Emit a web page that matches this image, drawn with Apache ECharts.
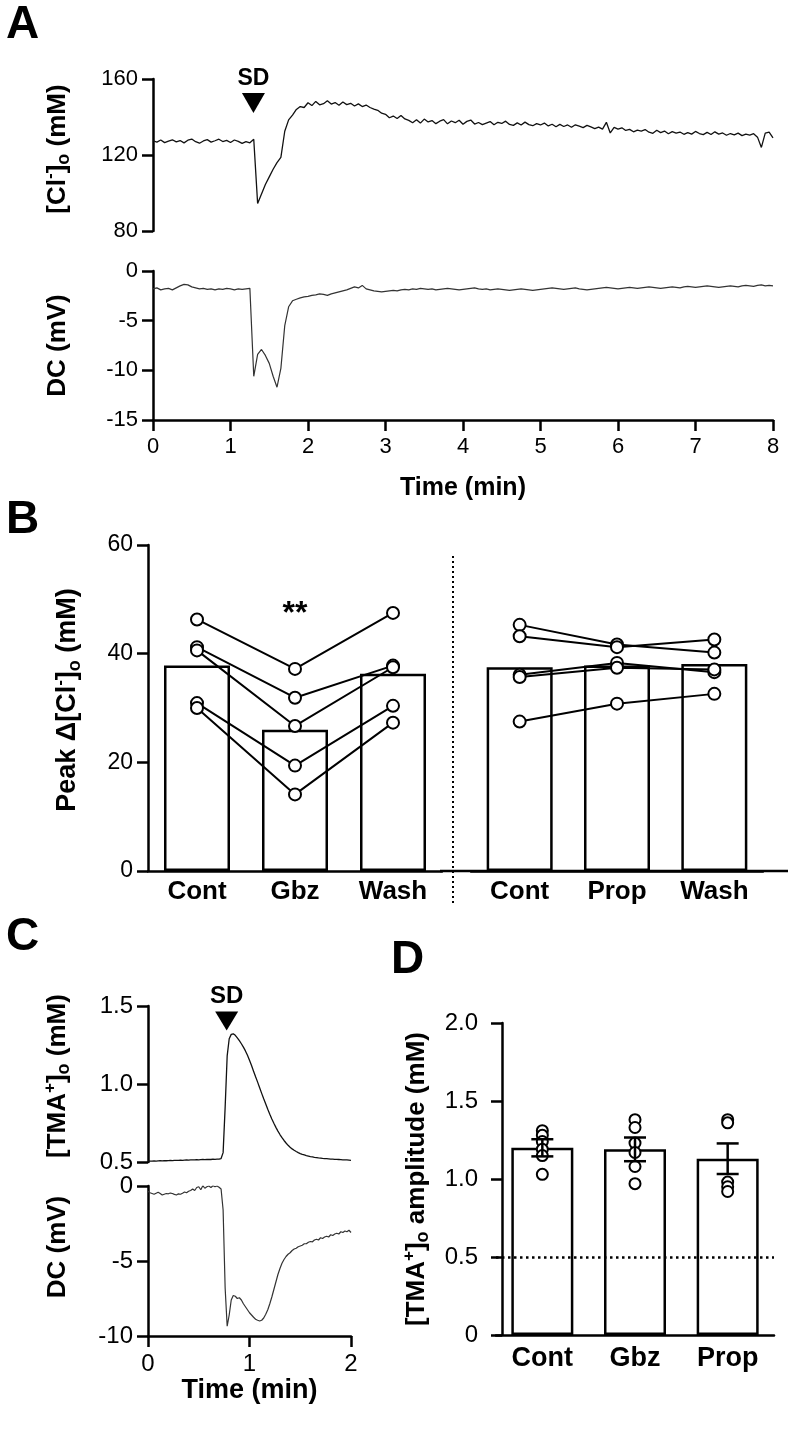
<!DOCTYPE html>
<html><head><meta charset="utf-8">
<script src="https://cdn.jsdelivr.net/npm/echarts@6/dist/echarts.min.js"></script>
<style>html,body{margin:0;padding:0;background:#fff}#c{width:796px;height:1451px}</style>
</head><body><div id="c"></div>
<script>
// ---------------- DATA ----------------
// Panel A: traces sampled every 0.05 min from 0 to 8 min
const aStep = 0.05;
const aCl = [
127.5,126.8,127.9,126.5,127.3,128.0,126.9,127.6,126.4,127.8,
128.4,127.0,126.2,127.4,128.1,126.8,127.5,128.3,127.1,127.7,
126.6,127.9,127.2,126.1,127.0,126.4,
128.3,94.5,
99.5,104.5,108.5,112.5,116.0,118.8,132.5,138.5,141.0,144.0,
145.5,145.0,147.5,146.0,148.2,146.4,147.0,148.5,146.8,147.6,
146.2,147.9,146.5,147.2,145.8,146.9,145.5,146.3,145.0,
144.2,143.5,142.0,141.4,139.6,140.5,139.2,140.8,139.0,138.2,
137.0,138.6,136.8,138.9,137.4,138.1,136.5,137.8,138.6,136.4,
137.9,137.0,138.3,136.2,137.7,138.4,136.3,137.1,136.0,136.8,
137.6,135.9,137.2,136.6,137.8,136.1,135.6,136.9,135.8,137.3,
136.0,135.4,136.5,135.8,136.8,135.3,136.2,134.9,136.1,135.0,
135.8,134.6,135.9,135.2,134.4,135.6,134.8,133.9,134.7,133.6,
137.2,131.6,134.5,133.6,134.3,132.9,133.5,132.2,133.1,132.6,
133.4,132.0,131.4,133.0,131.8,132.6,131.2,132.3,131.5,132.1,
130.9,131.8,131.0,132.4,131.3,130.7,131.9,130.8,132.2,131.0,
131.6,130.4,131.3,130.6,131.5,130.2,131.0,130.5,131.2,129.4,
124.0,131.5,132.0,129.0
];
const aDC = [
-1.8,-1.7,-1.9,-1.8,-1.75,-1.9,-1.7,-1.5,-1.35,-1.4,
-1.6,-1.7,-1.8,-1.75,-1.85,-1.8,-1.9,-1.8,-1.85,-1.75,
-1.8,-1.9,-1.8,-1.85,-1.8,-1.75,
-10.6,-8.4,-7.9,-8.5,-9.3,-10.6,-11.7,-9.8,-5.5,-3.6,
-3.0,-2.85,-2.7,-2.6,-2.55,-2.45,-2.4,-2.3,-2.35,-2.45,
-2.3,-2.2,-2.1,-2.0,-1.9,-1.75,-1.6,-1.7,-1.45,-1.8,
-1.9,-2.0,-2.05,-2.1,-2.05,
-2.0,-1.95,-2.0,-1.9,-1.85,-1.9,-1.8,-1.85,-1.75,-1.8,
-1.85,-1.8,-1.9,-1.85,-1.8,-1.75,-1.8,-1.85,-1.9,-1.85,
-1.8,-1.75,-1.7,-1.8,-1.85,-1.8,-1.9,-1.85,-1.8,-1.85,
-1.9,-1.95,-1.9,-1.85,-1.8,-1.85,-1.9,-1.95,-1.9,-1.85,
-1.8,-1.75,-1.7,-1.75,-1.8,-1.85,-1.8,-1.75,-1.7,-1.8,
-1.85,-1.9,-1.85,-1.8,-1.75,-1.7,-1.65,-1.7,-1.75,-1.8,
-1.75,-1.7,-1.65,-1.7,-1.75,-1.7,-1.65,-1.6,-1.65,-1.7,
-1.75,-1.7,-1.65,-1.6,-1.65,-1.7,-1.6,-1.55,-1.6,-1.65,
-1.6,-1.55,-1.5,-1.55,-1.6,-1.65,-1.6,-1.55,-1.5,-1.55,
-1.6,-1.5,-1.45,-1.5,-1.55,-1.45,-1.4,-1.5,-1.45,-1.5
];
const aSD = [1.296, 147.4];   // arrow position (min, mM)

// Panel B
const bCatsL = ['Cont', 'Gbz', 'Wash'];
const bCatsR = ['Cont', 'Prop', 'Wash'];
const bMeanL = [37.8, 26.0, 36.3];
const bMeanR = [37.5, 37.8, 38.1];
const bSubjL = [
  [46.3, 37.2, 47.5],
  [41.2, 31.9, 37.8],
  [40.6, 26.7, 37.5],
  [30.9, 19.4, 30.4],
  [30.0, 14.1, 27.3]
];
const bSubjR = [
  [45.3, 41.7, 40.2],
  [43.2, 41.2, 42.6],
  [36.1, 38.3, 36.6],
  [35.7, 37.4, 37.1],
  [27.5, 30.8, 32.6]
];
const bStar = ['Gbz', 47.2];

// Panel C: traces sampled every 0.02 min from 0 to 2 min
const cStep = 0.02;
const cTMA = [
0.505,0.506,0.505,0.507,0.506,0.507,0.508,0.507,0.509,0.508,
0.509,0.510,0.509,0.511,0.510,0.511,0.512,0.511,0.512,0.513,
0.512,0.513,0.514,0.513,0.515,0.514,0.515,0.516,0.515,0.516,
0.517,0.516,0.518,0.517,0.518,0.519,
0.522,0.56,0.85,1.18,1.29,1.318,1.322,1.312,1.296,1.278,
1.258,1.236,1.212,1.184,1.152,1.118,1.082,1.046,1.012,0.976,
0.94,0.905,0.872,0.838,0.806,0.776,0.748,0.722,0.698,0.676,
0.656,0.638,0.622,0.607,0.595,0.584,0.575,0.567,0.560,0.554,
0.549,0.545,0.541,0.538,0.535,0.533,0.530,0.528,0.526,0.525,
0.523,0.522,0.521,0.520,0.519,0.518,0.517,0.517,0.516,0.515,
0.514,0.514,0.513,0.512,0.511
];
const cDC = [
-0.35,-0.45,-0.5,-0.55,-0.48,-0.42,-0.5,-0.6,-0.55,-0.5,
-0.52,-0.47,-0.5,-0.56,-0.6,-0.52,-0.55,-0.48,-0.4,-0.45,
-0.35,-0.3,-0.2,-0.3,-0.1,-0.05,-0.25,0.02,-0.15,-0.05,
0.0,-0.1,0.02,-0.05,0.0,-0.08,
-0.2,-1.6,-6.8,-9.35,-8.6,-7.6,-7.3,-7.35,-7.5,-7.45,
-7.6,-7.85,-8.05,-8.25,-8.45,-8.6,-8.75,-8.88,-8.95,-9.0,
-8.95,-8.8,-8.55,-8.25,-7.85,-7.4,-6.9,-6.4,-5.9,-5.5,
-5.15,-4.9,-4.7,-4.55,-4.45,-4.3,-4.2,-4.15,-4.05,-4.0,
-3.95,-3.85,-3.85,-3.75,-3.7,-3.72,-3.6,-3.55,-3.6,-3.45,
-3.5,-3.4,-3.35,-3.4,-3.25,-3.3,-3.2,-3.15,-3.2,-3.05,
-3.1,-3.0,-3.05,-2.95,-3.1
];
const cSD = [0.775, 1.404];

// Panel D
const dCats = ['Cont', 'Gbz', 'Prop'];
const dMean = [1.20, 1.19, 1.13];
const dSem = [0.055, 0.076, 0.098];
const dPoints = [
  [1.31, 1.28, 1.24, 1.19, 1.15, 1.03],
  [1.38, 1.33, 1.23, 1.17, 1.08, 0.97],
  [1.38, 1.36, 0.98, 0.95, 0.92]
];
const dBaseline = 0.5;

// ---------------- CHART ----------------
const FF = '"Liberation Sans", Arial, Helvetica, sans-serif';
const BLK = '#000';
const AXW = 2.5;

function toPairs(arr, step) { return arr.map((v, i) => [+(i * step).toFixed(3), v]); }

function makeRich(fs) {
  const s = Math.round(fs * 0.64);
  return {
    m: { fontSize: fs, fontWeight: 'bold', fontFamily: FF, color: BLK, lineHeight: fs + 5 },
    sup: { fontSize: s, fontWeight: 'bold', fontFamily: FF, color: BLK, verticalAlign: 'top', lineHeight: s },
    sub: { fontSize: s + 1, fontWeight: 'bold', fontFamily: FF, color: BLK, verticalAlign: 'bottom', lineHeight: s + 1 }
  };
}

function valY(gi, min, max, interval, name, nameGap, o) {
  o = o || {};
  const fs = o.nameSize || 26, ls = o.labelSize || 23, up = o.up || 0;
  return {
    type: 'value', gridIndex: gi, min: min, max: max, interval: interval, offset: o.offset || 0,
    name: name, nameLocation: 'middle', nameGap: nameGap, nameRotate: 90,
    nameTextStyle: { fontSize: fs, fontWeight: 'bold', fontFamily: FF, color: BLK, rich: makeRich(fs), padding: [0, 0, 0, 2 * up] },
    axisLine: { show: true, lineStyle: { color: BLK, width: AXW } },
    axisTick: { show: true, length: 11, inside: false, lineStyle: { color: BLK, width: AXW } },
    axisLabel: { show: true, fontSize: ls, fontFamily: FF, color: BLK, margin: o.margin || 15, formatter: o.formatter },
    splitLine: { show: false }
  };
}
function hiddenX(gi, min, max) {
  return { type: 'value', gridIndex: gi, min: min, max: max, show: false, splitLine: { show: false } };
}
function valX(gi, min, max, interval, name, nameGap, nameSize, labelSize) {
  return {
    type: 'value', gridIndex: gi, min: min, max: max, interval: interval,
    name: name, nameLocation: 'middle', nameGap: nameGap,
    nameTextStyle: { fontSize: nameSize, fontWeight: 'bold', fontFamily: FF, color: BLK },
    axisLine: { show: true, onZero: false, lineStyle: { color: BLK, width: AXW } },
    axisTick: { show: true, length: 11, lineStyle: { color: BLK, width: AXW } },
    axisLabel: { show: true, fontSize: labelSize, fontFamily: FF, color: BLK, margin: 16 },
    splitLine: { show: false }
  };
}
function catX(gi, cats, margin, fs) {
  return {
    type: 'category', gridIndex: gi, data: cats, boundaryGap: true,
    axisLine: { show: true, onZero: false, lineStyle: { color: BLK, width: AXW } },
    axisTick: { show: false },
    axisLabel: { show: true, fontSize: fs, fontWeight: 'bold', fontFamily: FF, color: BLK, margin: margin },
    splitLine: { show: false }
  };
}
function trace(xi, yi, data, extra) {
  return Object.assign({
    type: 'line', xAxisIndex: xi, yAxisIndex: yi, data: data, showSymbol: false, symbol: 'none',
    lineStyle: { color: '#111', width: 1.3 }, silent: true, z: 3
  }, extra || {});
}
const triPath = 'path://M0,0 L20,0 L10,18 Z';
function sdMark(pt, size, fs) {
  return {
    symbol: triPath, symbolSize: size, symbolKeepAspect: false,
    itemStyle: { color: BLK },
    label: { show: true, position: 'top', distance: 3, formatter: 'SD', fontSize: fs, fontWeight: 'bold', fontFamily: FF, color: BLK },
    data: [{ coord: pt }]
  };
}
function fmt1(v) { return v === 0 ? '0' : v.toFixed(1); }

const grids = [
  { left: 153, top: 79, width: 620, height: 152 },   // A top
  { left: 153, top: 271, width: 620, height: 149 },  // A bottom
  { left: 148, top: 545, width: 294, height: 326 },  // B left
  { left: 471, top: 545, width: 292, height: 326 },  // B right
  { left: 148, top: 1006, width: 203, height: 156 }, // C top
  { left: 148, top: 1186, width: 203, height: 150 }, // C bottom
  { left: 496, top: 1023, width: 278, height: 312 }  // D
].map(g => Object.assign({ outerBoundsMode: 'none', containLabel: false }, g));

const xAxes = [
  hiddenX(0, 0, 8),
  valX(1, 0, 8, 1, 'Time (min)', 56, 25, 22),
  catX(2, bCatsL, 8, 26),
  catX(3, bCatsR, 8, 26),
  hiddenX(4, 0, 2),
  valX(5, 0, 2, 1, 'Time (min)', 40, 27, 24),
  catX(6, dCats, 10, 27)
];
const yAxes = [
  valY(0, 80, 160, 40, '{m|[Cl}{sup|-}{m|]}{sub|o}{m| (mM)}', 80, { up: 6, labelSize: 22 }),
  valY(1, -15, 0, 5, '{m|DC (mV)}', 80, { labelSize: 22 }),
  valY(2, 0, 60, 20, '{m|Peak Δ[Cl}{sup|-}{m|]}{sub|o}{m| (mM)}', 64, { up: 8, nameSize: 27, labelSize: 23 }),
  { type: 'value', gridIndex: 3, min: 0, max: 60, show: false, splitLine: { show: false } },
  valY(4, 0.5, 1.5, 0.5, '{m|[TMA}{sup|+}{m|]}{sub|o}{m| (mM)}', 75, { up: 8, labelSize: 24, formatter: fmt1 }),
  valY(5, -10, 0, 5, '{m|DC (mV)}', 75, { up: 14, labelSize: 24 }),
  valY(6, 0, 2, 0.5, '{m|[TMA}{sup|+}{m|]}{sub|o}{m| amplitude (mM)}', 70, { offset: -6, labelSize: 24, margin: 24, formatter: fmt1 })
];

const barStyle = { color: '#fff', borderColor: BLK, borderWidth: 2.5 };
const dotStyle = { color: BLK, borderColor: BLK, borderWidth: 2, opacity: 1 };
const series = [];

// A
series.push(trace(0, 0, toPairs(aCl, aStep), { markPoint: sdMark(aSD, [23, 20], 23) }));
series.push(trace(1, 1, toPairs(aDC, aStep), { lineStyle: { color: '#333', width: 1.2 } }));

// B
series.push({
  type: 'bar', xAxisIndex: 2, yAxisIndex: 2, data: bMeanL, barWidth: 66, itemStyle: barStyle, z: 2, silent: true,
  markPoint: {
    symbol: 'circle', symbolSize: 1, itemStyle: { color: 'rgba(0,0,0,0)' },
    label: { show: true, position: 'inside', formatter: '**', fontSize: 32, fontWeight: 'bold', fontFamily: FF, color: BLK },
    data: [{ coord: bStar }]
  }
});
bSubjL.forEach(s => series.push({
  type: 'line', xAxisIndex: 2, yAxisIndex: 2, data: s, symbol: 'emptyCircle', symbolSize: 12, showSymbol: true,
  itemStyle: dotStyle, lineStyle: { color: BLK, width: 2 }, z: 4, silent: true
}));
series.push({ type: 'bar', xAxisIndex: 3, yAxisIndex: 3, data: bMeanR, barWidth: 66, itemStyle: barStyle, z: 2, silent: true });
bSubjR.forEach(s => series.push({
  type: 'line', xAxisIndex: 3, yAxisIndex: 3, data: s, symbol: 'emptyCircle', symbolSize: 12, showSymbol: true,
  itemStyle: dotStyle, lineStyle: { color: BLK, width: 2 }, z: 4, silent: true
}));

// C
series.push(trace(4, 4, toPairs(cTMA, cStep), { markPoint: sdMark(cSD, [23, 19], 24) }));
series.push(trace(5, 5, toPairs(cDC, cStep), { lineStyle: { color: '#333', width: 1.2 } }));

// D
series.push({
  type: 'bar', xAxisIndex: 6, yAxisIndex: 6, data: dMean, barWidth: 62, itemStyle: barStyle, z: 2, silent: true,
  markLine: {
    silent: true, symbol: 'none', label: { show: false },
    lineStyle: { color: BLK, width: 2.5, type: [2.5, 3.5] },
    data: [{ yAxis: dBaseline }]
  }
});
const dScatter = [];
dPoints.forEach((arr, i) => arr.forEach(v => dScatter.push([dCats[i], v])));
series.push({
  type: 'scatter', xAxisIndex: 6, yAxisIndex: 6, data: dScatter, symbol: 'emptyCircle', symbolSize: 11,
  itemStyle: { color: BLK, borderColor: BLK, borderWidth: 2.2, opacity: 1 }, z: 4, silent: true
});
series.push({
  type: 'custom', xAxisIndex: 6, yAxisIndex: 6, z: 5, silent: true,
  data: dCats.map((c, i) => [i, dMean[i], dSem[i]]),
  renderItem: function (params, api) {
    const x = api.value(0), m = api.value(1), s = api.value(2);
    const t = api.coord([x, m + s]), b = api.coord([x, m - s]);
    const hw = 11, st = { stroke: BLK, lineWidth: 2.5 };
    return {
      type: 'group', children: [
        { type: 'line', shape: { x1: t[0], y1: t[1], x2: b[0], y2: b[1] }, style: st },
        { type: 'line', shape: { x1: t[0] - hw, y1: t[1], x2: t[0] + hw, y2: t[1] }, style: st },
        { type: 'line', shape: { x1: b[0] - hw, y1: b[1], x2: b[0] + hw, y2: b[1] }, style: st }
      ]
    };
  }
});

const letter = (txt, x, y) => ({
  type: 'text', left: x, top: y,
  style: { text: txt, fontSize: 46, fontWeight: 'bold', fontFamily: FF, fill: BLK }
});

const option = {
  animation: false,
  backgroundColor: '#fff',
  textStyle: { fontFamily: FF },
  grid: grids,
  xAxis: xAxes,
  yAxis: yAxes,
  series: series,
  graphic: [
    letter('A', 6, 2),
    letter('B', 6, 497),
    letter('C', 6, 914),
    letter('D', 391, 937),
    // continuation of panel B baseline between/after the two groups
    { type: 'line', shape: { x1: 440, y1: 871, x2: 788, y2: 871 }, style: { stroke: BLK, lineWidth: AXW } },
    // dotted separator in panel B
    { type: 'line', shape: { x1: 453, y1: 556, x2: 453, y2: 906 }, style: { stroke: BLK, lineWidth: 2, lineDash: [2, 3] } }
  ]
};

const chart = echarts.init(document.getElementById('c'), null, { renderer: 'canvas' });
chart.setOption(option);
</script></body></html>
